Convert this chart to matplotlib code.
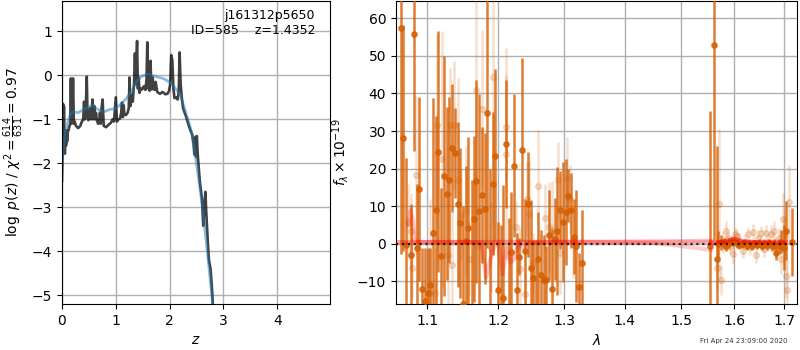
import numpy as np
import matplotlib
matplotlib.use('Agg')
import matplotlib.pyplot as plt

# p(z) curves
z_pz = [0.0, 0.012, 0.02, 0.03, 0.036, 0.045, 0.055, 0.065, 0.075, 0.085, 0.095, 0.105, 0.12, 0.14, 0.155, 0.165, 0.175, 0.19, 0.205, 0.22, 0.235, 0.26,
        0.3, 0.34, 0.37, 0.395, 0.41, 0.425, 0.44, 0.46, 0.475, 0.49, 0.51, 0.525, 0.54, 0.555, 0.565, 0.58, 0.6, 0.615, 0.63, 0.65, 0.67,
        0.69, 0.705, 0.72, 0.735, 0.755, 0.775, 0.82, 0.87, 0.91, 0.94, 0.965, 0.985, 1.0, 1.02, 1.05, 1.08, 1.1, 1.115, 1.13, 1.145, 1.16, 1.19,
        1.22, 1.24, 1.255, 1.27, 1.285, 1.3, 1.315, 1.33, 1.34, 1.355, 1.37, 1.38, 1.395, 1.41, 1.425, 1.44, 1.46, 1.49, 1.52, 1.55, 1.57, 1.585, 1.6,
        1.615, 1.63, 1.645, 1.655, 1.67, 1.685, 1.7, 1.72, 1.74, 1.77, 1.82, 1.87, 1.92, 1.96, 1.99, 2.01, 2.03, 2.05, 2.07, 2.09, 2.12, 2.15, 2.17, 2.185, 2.205, 2.225,
        2.25, 2.3, 2.37, 2.42, 2.445, 2.46, 2.48, 2.49, 2.505, 2.525, 2.56, 2.6, 2.625, 2.645, 2.665, 2.68, 2.71, 2.73, 2.76, 2.79, 2.81]
logp = [-2.4, -1.6, -0.65, -1.4, -0.7, -1.7, -1.78, -1.3, -1.6, -1.25, -1.5, -1.3, -1.25, -1.15, -1.1, -0.07, -1.1, -1.05, -0.07, -1.1, -1.05, -1.15,
        -1.2, -1.15, -1.05, -1.0, -0.6, -1.0, -0.85, -0.03, -0.95, -1.02, -0.95, -0.75, -1.0, -0.8, -0.55, -1.0, -0.7, -1.0, -0.85, -1.02, -1.1,
        -1.08, -0.85, -1.1, -0.75, -0.55, -1.15, -1.18, -1.12, -1.08, -1.0, -1.05, -0.75, -0.5, -1.05, -1.0, -0.98, -0.85, -0.62, -0.95, -0.68, -0.9, -0.9,
        -0.85, -0.75, -0.05, -0.7, -0.55, -0.45, -0.6, -0.35, -0.15, 0.5, -0.2, 0.25, 0.78, -0.3, -0.05, -0.4, -0.3, -0.32, -0.25, -0.33, -0.1, 0.75, -0.3,
        0.1, -0.35, 0.33, -0.1, -0.32, -0.05, -0.3, -0.33, -0.15, -0.38, -0.42, -0.38, -0.43, -0.42, -0.35, -0.2, 0.46, 0.35, -0.3, -0.52, -0.5, -0.55, -0.35, 0.52, -0.2, -0.5,
        -0.75, -0.92, -1.2, -1.35, -1.55, -1.8, -1.4, -1.85, -1.38, -1.85, -2.4, -2.8, -3.42, -2.95, -2.65, -3.1, -3.8, -4.2, -4.4, -4.9, -5.4]
z_mean = [0.0, 0.03, 0.06, 0.1, 0.15, 0.2, 0.3, 0.4, 0.5, 0.58, 0.63, 0.7, 0.78, 0.88, 1.0, 1.1, 1.2, 1.3, 1.38, 1.48, 1.6, 1.75,
          1.9, 2.05, 2.2, 2.3, 2.4, 2.5, 2.6, 2.7, 2.8]
logp_mean = [-2.1, -1.6, -1.3, -1.1, -0.9, -0.83, -0.85, -0.78, -0.72, -0.67, -0.75, -0.8, -0.83, -0.78, -0.75, -0.65, -0.52, -0.35, -0.15, -0.02, 0.02, -0.03,
             -0.08, -0.2, -0.45, -0.85, -1.25, -2.0, -2.9, -4.0, -5.2]

# G141 side, strong points
lam_a = [1.0653, 1.0679, 1.0714, 1.0788, 1.0823, 1.0867, 1.0889, 1.0929, 1.0965, 1.1005, 1.1041, 1.1081, 1.1117, 1.1149,
         1.1194, 1.1231, 1.1263, 1.13, 1.1341, 1.1382, 1.1415, 1.1452, 1.1489, 1.1527, 1.1564, 1.1612, 1.1645, 1.1678,
         1.1721, 1.1764, 1.1797, 1.1836, 1.1874, 1.1913, 1.1952, 1.199, 1.203, 1.2069, 1.2108, 1.2148, 1.2187, 1.2227,
         1.2272, 1.2307, 1.2352, 1.2397, 1.2437, 1.2478, 1.2519, 1.2559, 1.26, 1.2641, 1.2692, 1.2723, 1.2765, 1.2812,
         1.2853, 1.2895, 1.2942, 1.2979, 1.3027, 1.3069, 1.3112, 1.316, 1.3187, 1.3241, 1.3289,
         1.5529, 1.5605, 1.566, 1.569, 1.5747, 1.5795, 1.5845, 1.5895, 1.5945, 1.5995, 1.6045, 1.6095, 1.6145, 1.6195,
         1.6245, 1.6295, 1.6345, 1.6395, 1.6445, 1.6495, 1.6545, 1.6595, 1.6645, 1.6695, 1.6745, 1.6795, 1.6843, 1.6895,
         1.6945, 1.6995, 1.7045, 1.7168]
flux_a = [57.3, 28.2, -0.2, -2.9, 55.8, -1.2, 14.6, -12.0, -15.2, -13.0, -11.0, 2.9, 8.9, 24.5,
          -3.2, 18.0, 13.3, 17.0, 25.5, 24.2, 10.5, 5.6, -16.0, 0.7, 4.3, -18.0, 6.6, 16.7,
          8.8, 13.0, 9.4, 34.8, -20.0, 16.0, 23.4, -12.2, -17.0, -14.4, 26.6, -19.0, -2.1, 20.8,
          -12.2, -3.4, 25.0, -2.0, 10.5, -6.4, -9.0, -17.0, -4.0, -8.2, -9.7, -9.5, 2.4, -12.0,
          1.3, 3.5, 9.0, 5.9, 8.5, 12.8, 8.9, 1.9, -0.6, -11.4, -5.0,
          -0.7, 53.0, -4.0, 0.0, 0.4, 0.0, -0.5, 0.3, 0.6, 0.5, 0.1, -0.4, -0.1, 0.1,
          -0.6, 0.0, -0.7, 0.1, -0.4, 0.3, -0.5, 0.0, -0.4, 0.1, -0.6, -0.1, -2.5, -0.6,
          0.6, -1.0, 3.5, 0.5]
err_a = [60.0, 30.0, 23.0, 13.6, 31.0, 17.0, 24.5, 11.0, 14.0, 12.0, 10.0, 36.0, 25.0, 32.0,
         18.0, 32.0, 23.0, 22.0, 17.0, 12.0, 22.0, 20.0, 26.0, 20.0, 24.0, 35.0, 22.0, 27.0,
         31.0, 18.0, 20.0, 36.0, 40.0, 19.0, 23.0, 18.0, 22.0, 30.0, 17.0, 26.0, 16.0, 19.0,
         15.0, 5.0, 24.5, 14.0, 14.0, 18.0, 10.0, 18.0, 12.5, 12.0, 12.0, 9.0, 12.0, 16.0,
         11.0, 17.0, 10.5, 16.0, 14.0, 7.0, 10.0, 10.0, 15.0, 9.0, 14.0,
         36.0, 52.0, 30.0, 3.5, 2.0, 1.5, 1.4, 1.3, 1.2, 1.1, 1.1, 1.0, 1.0, 1.0,
         1.0, 1.0, 1.0, 1.0, 1.0, 1.1, 1.1, 1.2, 1.2, 1.3, 1.4, 1.5, 1.8, 2.0,
         3.0, 6.0, 7.8, 9.0]

# second grism, faint points
lam_b = [1.0746, 1.0788, 1.0802, 1.0845, 1.1037, 1.11, 1.1135, 1.1205, 1.1285, 1.1307, 1.1339, 1.137, 1.1425, 1.1462,
         1.153, 1.158, 1.1678, 1.1708, 1.1764, 1.1923, 1.1885, 1.2108, 1.2113, 1.2258, 1.2325, 1.2397, 1.2425, 1.246,
         1.252, 1.2587, 1.2695, 1.277, 1.2815, 1.2905, 1.2935, 1.305, 1.3087, 1.3145,
         1.5665, 1.571, 1.574, 1.578, 1.583, 1.588, 1.592, 1.597, 1.601, 1.606, 1.61, 1.616, 1.62, 1.626, 1.63, 1.636,
         1.642, 1.647, 1.652, 1.658, 1.662, 1.668, 1.673, 1.679, 1.684, 1.689, 1.693, 1.697, 1.7, 1.703, 1.706, 1.71]
flux_b = [5.8, 3.5, -6.4, 18.2, -13.0, -13.0, 31.7, 22.6, -3.0, 31.7, -5.6, 31.7, 17.0, 7.8,
          9.0, -4.0, 40.8, -0.7, 36.0, 44.4, -1.0, 24.0, 31.0, 4.5, -6.8, -13.3, 12.0, 8.0,
          -5.0, 15.4, 7.0, 4.5, 3.8, 17.0, -2.4, 17.5, 12.0, 0.0,
          -6.4, 10.5, -9.5, 0.5, 3.5, 1.5, -0.8, -2.8, 2.5, 2.0, 0.8, -1.8, 0.5, 2.5, -0.9, 3.2,
          -3.0, 1.6, 2.8, -1.5, 3.0, 0.4, 2.5, 3.5, -0.9, 1.5, -4.0, 6.6, 2.5, -8.5, -12.4, 11.0]
err_b = [10.0, 10.0, 8.0, 21.0, 25.0, 12.0, 24.0, 34.0, 15.0, 15.0, 14.0, 17.0, 27.0, 12.0,
         17.0, 10.0, 40.0, 9.0, 21.0, 40.0, 12.0, 28.0, 14.0, 7.0, 11.0, 12.0, 10.0, 14.0,
         8.0, 15.0, 9.0, 12.0, 13.0, 10.0, 11.0, 11.0, 9.0, 9.0,
         6.0, 20.0, 4.0, 3.0, 2.5, 2.0, 2.0, 2.5, 2.0, 2.0, 2.0, 2.0, 2.0, 2.0, 2.0, 2.0,
         2.0, 2.0, 2.0, 2.0, 2.0, 2.2, 2.4, 2.6, 2.6, 2.8, 4.0, 7.0, 5.0, 6.0, 8.0, 10.0]

# template fits
lam_m1 = [1.075, 1.078, 1.081, 1.083, 1.087, 1.15, 1.175, 1.182, 1.187, 1.193, 1.2, 1.206, 1.212, 1.218, 1.223, 1.23, 1.236, 1.245, 1.3, 1.4, 1.5, 1.555]
fit_m1 = [5.0, 9.0, 6.0, 1.0, 0.5, 0.5, 0.3, -9.0, -5.0, -1.0, 0.3, -8.0, -1.0, -5.0, -4.0, 0.5, -1.0, 0.3, 0.5, 0.6, 0.7, 0.8]
lam_m2 = [1.06, 1.3, 1.45, 1.5, 1.555]
fit_m2 = [0.4, 0.6, 0.2, -0.6, -1.6]
lam_m3 = [1.555, 1.575, 1.59, 1.6, 1.615, 1.65, 1.7]
fit_m3 = [0.3, 0.4, 1.0, 1.4, 0.7, 0.4, 0.3]
lam_m4 = [1.06, 1.715]
fit_m4 = [0.6, 0.6]

xticks = [1.1, 1.2, 1.3, 1.4, 1.5, 1.6, 1.7]
yticks_l = [-5, -4, -3, -2, -1, 0, 1]
yticks_r = [-10, 0, 10, 20, 30, 40, 50, 60]

orange = '#d55e00'

fig = plt.figure(figsize=(8, 3.5), dpi=100)

# left panel: redshift PDF
ax = fig.add_axes([62/800, 1 - 304/350, 268/800, 303/350])
ax.plot(z_pz, logp, color='k', alpha=0.75, lw=1.9)
ax.plot(z_mean, logp_mean, color='#1f77b4', alpha=0.5, lw=2.0)
ax.set_xlim(0, 4.98)
ax.set_ylim(-5.2, 1.69)
ax.set_xticks([0, 1, 2, 3, 4])
ax.set_yticks(yticks_l)
ax.grid(True, lw=1.0)
ax.set_xlabel(r'$z$')
ax.set_ylabel(r'$\log\ p(z)$ / $\chi^2=\frac{614}{631}=0.97$')
ax.text(0.945, 0.975, 'j161312p5650\nID=585    z=1.4352', transform=ax.transAxes,
        ha='right', va='top', fontsize=9)

# right panel: 1D spectrum
ax2 = fig.add_axes([396/800, 1 - 304/350, 401/800, 303/350])
ax2.errorbar(lam_b, flux_b, yerr=err_b, marker='o', ms=4.2, ls='none', color=orange, alpha=0.2, elinewidth=1.8, zorder=3)
ax2.errorbar(lam_a, flux_a, yerr=err_a, marker='o', ms=3.8, ls='none', color=orange, alpha=0.8, elinewidth=1.8, zorder=4)
ax2.plot(lam_m1, fit_m1, color='r', alpha=0.25, lw=3, zorder=5)
ax2.plot(lam_m2, fit_m2, color='r', alpha=0.2, lw=3, zorder=5)
ax2.plot(lam_m3, fit_m3, color='r', alpha=0.5, lw=3, zorder=5)
ax2.plot(lam_m4, fit_m4, color='r', alpha=0.2, lw=3, zorder=5)
ax2.axhline(0, color='k', ls=':', lw=1.6, alpha=0.8, zorder=6)
ax2.set_xscale('log')
ax2.set_xlim(1.059, 1.727)
ax2.set_ylim(-16, 64.6)
ax2.set_xticks(xticks)
ax2.set_xticklabels([str(t) for t in xticks])
ax2.minorticks_off()
ax2.set_yticks(yticks_r)
ax2.grid(True, lw=1.0)
ax2.set_xlabel(r'$\lambda$')
ax2.set_ylabel(r'$f_\lambda\times 10^{-19}$')

fig.text(0.985, 0.027, 'Fri Apr 24 23:09:00 2020', ha='right', va='center', fontsize=5, color='#333333')

fig.savefig('out.png', dpi=100)
